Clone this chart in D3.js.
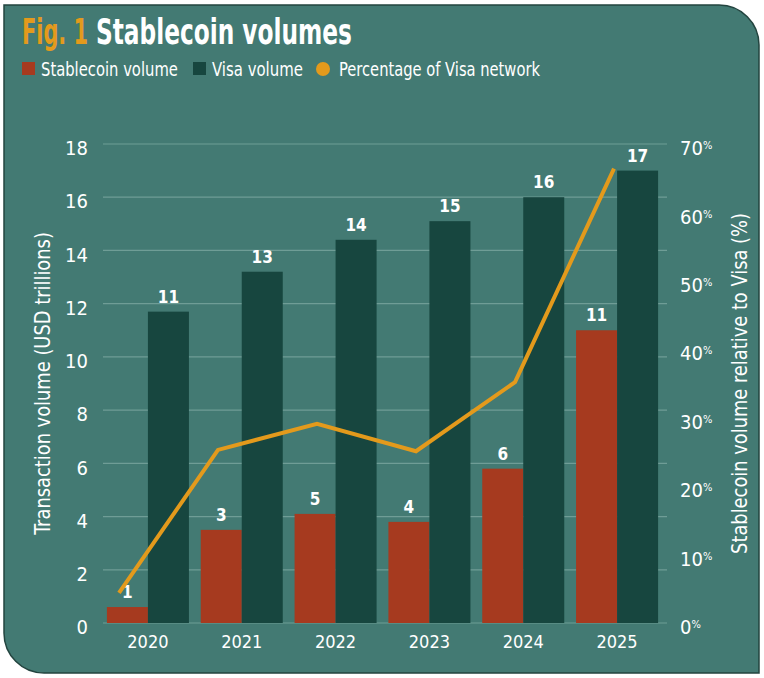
<!DOCTYPE html>
<html>
<meta charset="utf-8">
<style>
  body { margin: 0; background: #fff; }
  text { font-family: "Liberation Sans Narrow", "DejaVu Sans Condensed", sans-serif; fill: #fff; }
  .grid line { stroke: #6f9d96; stroke-width: 1.2; }
</style>
<body>
<div id="container"></div>
<script src="https://d3js.org/d3.v7.min.js"></script>
<script>
  // data
  const years = ["2020", "2021", "2022", "2023", "2024", "2025"];
  const stablecoin = [0.6, 3.5, 4.1, 3.8, 5.8, 11.0];
  const visa = [11.7, 13.2, 14.4, 15.1, 16.0, 17.0];
  const stableLabels = ["1", "3", "5", "4", "6", "11"];
  const visaLabels = ["11", "13", "14", "15", "16", "17"];
  const pctOfVisa = [4.4, 25.3, 29.1, 25.1, 35.2, 66.4];
  const leftTicks = [0, 2, 4, 6, 8, 10, 12, 14, 16, 18];
  const rightTicks = [0, 10, 20, 30, 40, 50, 60, 70];
  const seriesNames = ["Stablecoin volume", "Visa volume"];

  const colors = { stable: "#a63a1f", visa: "#17463f", line: "#e39a1c", bg: "#437a73", border: "#23443f" };

  const W = 764, H = 678;
  const svg = d3.select("#container").append("svg").attr("width", W).attr("height", H);

  // squeeze a text horizontally so it spans `width` px (the reference uses a narrow face)
  function fitText(sel, x0, y0, width, rotate) {
    const len = sel.node().getComputedTextLength();
    const k = Math.min(1, width / len);
    if (rotate) sel.attr("transform", "translate(" + x0 + "," + y0 + ") rotate(-90) scale(" + k + ",1)");
    else sel.attr("transform", "translate(" + x0 + "," + y0 + ") scale(" + k + ",1)");
  }

  // panel with two rounded corners (top-right, bottom-left)
  const px0 = 4, py0 = 5, px1 = 759, py1 = 673, r = 40;
  const panel = d3.path();
  panel.moveTo(px0, py0);
  panel.lineTo(px1 - r, py0);
  panel.arcTo(px1, py0, px1, py0 + r, r);
  panel.lineTo(px1, py1);
  panel.lineTo(px0 + r, py1);
  panel.arcTo(px0, py1, px0, py1 - r, r);
  panel.closePath();
  svg.append("path").attr("d", panel.toString())
    .attr("fill", colors.bg).attr("stroke", colors.border).attr("stroke-width", 1.5);

  // scales
  const y = d3.scaleLinear().domain([0, 18]).range([623, 144]);
  const yR = d3.scaleLinear().domain([0, 70]).range([623, 144]);
  const x = d3.scaleBand().domain(years).range([101, 664]).paddingInner(0.126).paddingOuter(0.063);
  const xs = d3.scaleBand().domain(seriesNames).range([0, x.bandwidth()]);
  const xLine = d3.scalePoint().domain(years).range([119, 614]);

  // gridlines
  svg.append("g").attr("class", "grid")
    .selectAll("line").data(leftTicks).join("line")
    .attr("x1", 103).attr("x2", 667)
    .attr("y1", d => y(d)).attr("y2", d => y(d));

  // left axis labels
  svg.append("g").selectAll("text").data(leftTicks).join("text")
    .attr("x", 88).attr("y", d => y(d) + 4).attr("dy", "0.36em")
    .attr("text-anchor", "end").attr("font-size", 20)
    .text(d => d);

  // right axis labels
  const rt = svg.append("g").selectAll("text").data(rightTicks).join("text")
    .attr("x", 680).attr("y", d => yR(d) + 4).attr("dy", "0.36em")
    .attr("font-size", 20);
  rt.append("tspan").text(d => d);
  rt.append("tspan").attr("font-size", 11).attr("dy", "-0.55em").text("%");

  // axis titles
  const midY = (y(0) + y(18)) / 2;
  const yTitleL = svg.append("text")
    .attr("text-anchor", "middle").attr("font-size", 22)
    .text("Transaction volume (USD trillions)");
  fitText(yTitleL, 50, midY, 303, true);
  const yTitleR = svg.append("text")
    .attr("text-anchor", "middle").attr("font-size", 22)
    .text("Stablecoin volume relative to Visa (%)");
  fitText(yTitleR, 747, midY, 341, true);

  // bars
  const groups = svg.append("g").selectAll("g").data(years).join("g")
    .attr("transform", d => "translate(" + x(d) + ",0)");

  groups.append("rect")
    .attr("x", xs(seriesNames[0])).attr("width", xs.bandwidth())
    .attr("y", (d, i) => y(stablecoin[i])).attr("height", (d, i) => y(0) - y(stablecoin[i]))
    .attr("fill", colors.stable);
  groups.append("rect")
    .attr("x", xs(seriesNames[1])).attr("width", xs.bandwidth())
    .attr("y", (d, i) => y(visa[i])).attr("height", (d, i) => y(0) - y(visa[i]))
    .attr("fill", colors.visa);

  // line
  const line = d3.line().x((d, i) => xLine(years[i])).y(d => yR(d));
  svg.append("path").datum(pctOfVisa)
    .attr("d", line).attr("fill", "none")
    .attr("stroke", colors.line).attr("stroke-width", 4).attr("stroke-linejoin", "miter");

  // value labels
  groups.append("text")
    .attr("x", xs(seriesNames[0]) + xs.bandwidth() / 2)
    .attr("y", (d, i) => y(stablecoin[i]) - 9)
    .attr("text-anchor", "middle").attr("font-size", 17).attr("font-weight", "bold")
    .text((d, i) => stableLabels[i]);
  groups.append("text")
    .attr("x", xs(seriesNames[1]) + xs.bandwidth() / 2)
    .attr("y", (d, i) => y(visa[i]) - 9)
    .attr("text-anchor", "middle").attr("font-size", 17).attr("font-weight", "bold")
    .text((d, i) => visaLabels[i]);

  // x axis labels
  groups.append("text")
    .attr("x", x.bandwidth() / 2).attr("y", 648)
    .attr("text-anchor", "middle").attr("font-size", 18)
    .text(d => d);

  // title
  const fig = svg.append("text")
    .attr("font-size", 36).attr("font-weight", "bold")
    .style("fill", colors.line).text("Fig. 1");
  fitText(fig, 22, 44, 66);
  const ttl = svg.append("text")
    .attr("font-size", 36).attr("font-weight", "bold")
    .text("Stablecoin volumes");
  fitText(ttl, 96, 44, 256);

  // legend
  const legend = svg.append("g");
  legend.append("rect").attr("x", 22).attr("y", 62).attr("width", 13).attr("height", 13).attr("fill", colors.stable);
  fitText(legend.append("text").attr("font-size", 19).text(seriesNames[0]), 41, 76, 137);
  legend.append("rect").attr("x", 193).attr("y", 62).attr("width", 13).attr("height", 13).attr("fill", colors.visa);
  fitText(legend.append("text").attr("font-size", 19).text(seriesNames[1]), 212, 76, 91);
  legend.append("circle").attr("cx", 323).attr("cy", 69).attr("r", 7).attr("fill", colors.line);
  fitText(legend.append("text").attr("font-size", 19).text("Percentage of Visa network"), 339, 76, 201);
</script>
</body>
</html>
